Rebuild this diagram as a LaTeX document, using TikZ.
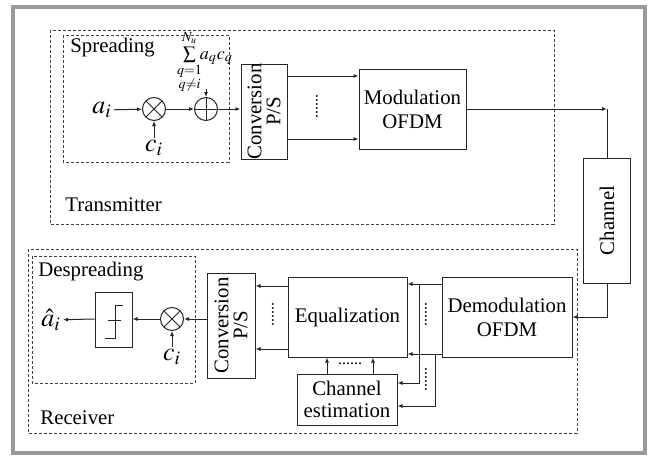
\documentclass[tikz,border=0pt]{standalone}
\usepackage{amsmath}
\usepackage{mathptmx}
\usepackage{fontspec}
\setmainfont{Liberation Serif}
\usetikzlibrary{arrows.meta,positioning}
\tikzset{
  blk/.style ={draw=black!85, line width=0.5pt, inner sep=0pt, align=center, font=\fontsize{10.4}{12}\selectfont},
  op/.style  ={draw=black!85, line width=0.5pt, circle, minimum size=11.5pt, inner sep=0pt},
  mult/.style={op, path picture={\draw[line width=0.5pt] (path picture bounding box.north west) -- (path picture bounding box.south east)
                 (path picture bounding box.north east) -- (path picture bounding box.south west);}},
  plus/.style={op, path picture={\draw[line width=0.5pt] (path picture bounding box.north) -- (path picture bounding box.south)
                 (path picture bounding box.east) -- (path picture bounding box.west);}},
  lbl/.style ={font=\fontsize{10.4}{12}\selectfont, inner sep=0pt, anchor=west},
  sym/.style ={font=\fontsize{13}{15}\selectfont, inner sep=1pt},
  vdts/.style={rotate=90, font=\fontsize{8}{8}\selectfont, inner sep=0pt},
  grp/.style ={draw=black!75, line width=0.4pt, dash pattern=on 1.5pt off 1pt},
  arr/.style ={-{Latex[length=2.5pt,width=2pt]}, line width=0.5pt, draw=black!85},
  wire/.style={line width=0.5pt, draw=black!85},
}
\begin{document}
\begin{tikzpicture}[x=0.5pt, y=-0.5pt]
  \useasboundingbox (0,0) rectangle (656,455);
  \fill[white] (0,0) rectangle (656,455);
  \draw[black!40, line width=2pt] (13,7) rectangle (645,453);

  % transmitter
  \draw[grp] (50,30) rectangle (554,224);
  \draw[grp] (63,35) rectangle (229,162);
  \node[lbl] (spr) at (70,48) {Spreading};
  \node[lbl] (tx) at (65,205) {Transmitter};

  \node[sym, anchor=east] (aT) at (114,110) {$a_i$};
  \node[mult] (multT) at (154,109) {};
  \node[sym, anchor=north] (cT) at (154,138) {$c_i$};
  \node[plus] (plusT) at (206,109) {};
  \node[inner sep=0pt, font=\fontsize{9}{10}\selectfont] (sumq) at (205,62)
       {$\sum\limits_{\substack{q=1\\ q\neq i}}^{\raisebox{1pt}{$\scriptstyle N_u$}}\!\! a_q c_q$};
  \node[blk, minimum width=23pt, minimum height=47.5pt] (convT) at (264,111.5) {};
  \node[rotate=90, align=center, inner sep=0pt, font=\fontsize{10.4}{9.5}\selectfont] (convTt) at (convT) {Conversion\\P/S};
  \node[vdts] (dotsT) at (317,106) {......};
  \node[blk, minimum width=53.5pt, minimum height=40pt] (mod) at (412.5,109) {Modulation\\OFDM};

  \node[blk, minimum width=23.5pt, minimum height=62.5pt] (chan) at (607,220.5) {};
  \node[rotate=90, inner sep=0pt, font=\fontsize{10.4}{12}\selectfont] (chant) at (chan) {Channel};

  \draw[arr] (aT) -- (multT);
  \draw[arr] (cT) -- (multT);
  \draw[arr] (multT) -- (plusT);
  \draw[arr] ([yshift=2.5pt]plusT.north |- sumq.south) -- (plusT.north);
  \draw[arr] (plusT) -- (convT.west |- plusT);
  \draw[arr] ([yshift=17.75pt]convT.east) -- ([yshift=17.75pt]convT.east -| mod.west);
  \draw[arr] ([yshift=-13.75pt]convT.east) -- ([yshift=-13.75pt]convT.east -| mod.west);
  \coordinate (txout) at (chan.north |- mod.east);
  \draw[arr] (mod.east) -- (txout);
  \draw[wire] (txout) -- (chan.north);

  % receiver
  \draw[grp] (28,249) rectangle (577,433);
  \draw[grp] (32,256) rectangle (195,383);
  \node[lbl] (desp) at (38,272) {Despreading};
  \node[lbl] (rx) at (40,418) {Receiver};

  \node[blk, minimum width=65pt, minimum height=40pt] (demod) at (507,317) {Demodulation\\OFDM};
  \node[blk, minimum width=59.5pt, minimum height=40pt] (eq) at (347.5,317) {Equalization};
  \node[blk, minimum width=50pt, minimum height=25.5pt, font=\fontsize{10.4}{11}\selectfont] (chest) at (347,399.5) {Channel\\estimation};
  \node[blk, minimum width=24pt, minimum height=52.5pt] (convR) at (231,325.5) {};
  \node[rotate=90, align=center, inner sep=0pt, font=\fontsize{10.4}{9.5}\selectfont] (convRt) at (convR) {Conversion\\P/S};
  \node[mult] (multR) at (172,319) {};
  \node[sym, anchor=north] (cR) at (172,347) {$c_i$};
  \node[blk, minimum width=18.5pt, minimum height=27.5pt] (dec) at (113.5,319.5) {};
  \node[sym, anchor=east] (ahat) at (63,320) {$\hat{a}_i$};
  \node[vdts] (dotsA) at (273,314) {......};
  \node[vdts] (dotsB) at (426,314) {......};
  \node[vdts] (dotsC) at (426,379) {......};
  \node[inner sep=0pt, font=\fontsize{8}{8}\selectfont] (dotsD) at (350,364) {......};

  \draw[wire] (105,338) -- (115,338) -- (115,305) -- (123,305);
  \draw[wire] (108,320) -- (121,320);

  \draw[arr] (chan.south) |- (demod.east);
  \coordinate (tapA) at (419,284);
  \coordinate (tapB) at (435,354);
  \draw[arr] (demod.west |- tapA) -- (eq.east |- tapA);
  \draw[arr] (demod.west |- tapB) -- (eq.east |- tapB);
  \draw[arr] (tapA) |- ([yshift=8.25pt]chest.east);
  \draw[arr] (tapB) |- ([yshift=-3.25pt]chest.east);
  \draw[arr] ([xshift=-10pt]chest.north) -- ([xshift=-10pt]chest.north |- eq.south);
  \draw[arr] ([xshift=13pt]chest.north) -- ([xshift=13pt]chest.north |- eq.south);
  \draw[arr] ([yshift=15.5pt]eq.west) -- ([yshift=15.5pt]eq.west -| convR.east);
  \draw[arr] ([yshift=-16pt]eq.west) -- ([yshift=-16pt]eq.west -| convR.east);
  \draw[arr] (convR.west |- multR) -- (multR);
  \draw[arr] (cR) -- (multR);
  \draw[arr] (multR) -- (dec.east |- multR);
  \draw[arr] (dec.west |- multR) -- (ahat);
\end{tikzpicture}
\end{document}
